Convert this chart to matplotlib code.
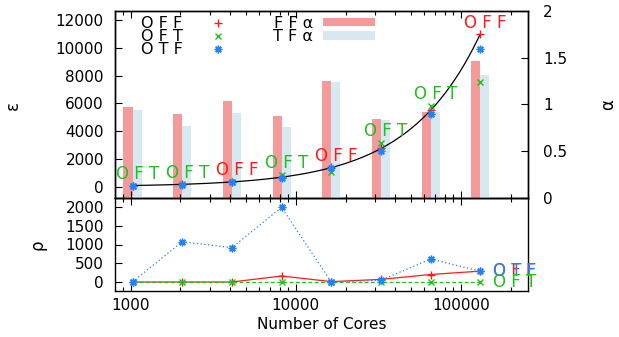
import numpy as np
import matplotlib
matplotlib.use("Agg")
import matplotlib.pyplot as plt
from matplotlib.lines import Line2D
from matplotlib.patches import Patch
from matplotlib.ticker import FixedLocator, LogLocator, NullFormatter, FuncFormatter

plt.rcParams["font.family"] = ["DejaVu Sans"]

# ---- data -------------------------------------------------------------
cores = [1024, 2048, 4096, 8192, 16384, 32768, 65536, 131072]

eps_off = [90, 175, 350, 700, 1400, 2760, 5500, 10990]
eps_oft = [80, 170, 350, 860, 1100, 3180, 5820, 7520]
eps_otf = [90, 165, 340, 620, 1340, 2610, 5240, 9890]
best_labels = ["O F T", "O F T", "O F F", "O F T", "O F F", "O F T", "O F T", "O F F"]

alpha_ff = [0.97, 0.90, 1.04, 0.88, 1.255, 0.85, 0.92, 1.47]
alpha_tf = [0.94, 0.77, 0.91, 0.76, 1.245, 0.83, 0.92, 1.32]

rho_off = [0, 0, 0, 160, 10, 70, 200, 290]
rho_oft = [0, 0, 0, 0, 0, 0, 0, 0]
rho_otf = [0, 1075, 915, 1990, 0, 50, 610, 290]

# linear model eps = slope * cores + intercept
fit_slope = 0.0839
fit_intercept = 5.0

x_ticks = [1000, 10000, 100000]
eps_ticks = [0, 2000, 4000, 6000, 8000, 10000, 12000]
alpha_ticks = [0, 0.5, 1, 1.5, 2]
rho_ticks = [0, 500, 1000, 1500, 2000]

# ---- style ------------------------------------------------------------
RED = "#ff1a1a"
GREEN = "#1ec01e"
BLUE = "#1f82ff"
BAR_RED = "#f59a9a"
BAR_BLUE = "#d6e9f0"
FS = 11
LFS = 12
label_color = {"O F F": RED, "O F T": GREEN, "O T F": BLUE}

W, H = 619, 337
fig = plt.figure(figsize=(W / 100, H / 100), dpi=100)

def fig_rect(left, top, right, bottom):
    return [left / W, 1 - bottom / H, (right - left) / W, (bottom - top) / H]

ax = fig.add_axes(fig_rect(115, 11, 528, 198))
axb = fig.add_axes(fig_rect(115, 198, 528, 291), sharex=ax)
ax2 = ax.twinx()
ax.set_zorder(ax2.get_zorder() + 1)
ax.patch.set_visible(False)

xlim = (802, 255000)
ax.set_xscale("log")
ax.set_xlim(*xlim)

# ---- alpha bars (right axis) ------------------------------------------
bar_dec = 0.0547
factor = 10 ** bar_dec
ax2.bar(cores, alpha_ff, width=[-(c - c / factor) for c in cores],
        align="edge", color=BAR_RED, linewidth=0)
ax2.bar(cores, alpha_tf, width=[c * factor - c for c in cores],
        align="edge", color=BAR_BLUE, linewidth=0)
ax2.set_ylim(0, 2.0)
ax2.yaxis.set_major_locator(FixedLocator(alpha_ticks))
ax2.yaxis.set_major_formatter(FuncFormatter(lambda v, p: f"{v:g}"))

# ---- epsilon (left axis) ----------------------------------------------
xs = np.logspace(np.log10(cores[0]), np.log10(cores[-1]), 300)
ax.plot(xs, fit_slope * xs + fit_intercept, color="black", lw=0.9, zorder=2)

ms = 5.5
asterisk = (8, 2, 0)
ax.plot(cores, eps_off, linestyle="none", marker="+", color=RED, ms=ms, mew=1.0, zorder=3)
ax.plot(cores, eps_oft, linestyle="none", marker="x", color=GREEN, ms=ms - 1, mew=1.0, zorder=3)
ax.plot(cores, eps_otf, linestyle="none", marker=asterisk, color=BLUE, ms=ms, mew=1.0, zorder=3)

for c, lab, a, b, d in zip(cores, best_labels, eps_off, eps_oft, eps_otf):
    top = max(a, b, d)
    ax.annotate(lab, (c, top), xytext=(3.6, 8.3), textcoords="offset points",
                ha="center", va="center", fontsize=LFS,
                color=label_color[lab], zorder=4)

ax.set_ylim(-806, 12650)
ax.yaxis.set_major_locator(FixedLocator(eps_ticks))

handles = [
    Line2D([], [], linestyle="none", marker="+", color=RED, ms=ms, mew=1.0),
    Line2D([], [], linestyle="none", marker="x", color=GREEN, ms=ms - 1, mew=1.0),
    Line2D([], [], linestyle="none", marker=asterisk, color=BLUE, ms=ms, mew=1.0),
    Patch(facecolor=BAR_RED, linewidth=0),
    Patch(facecolor=BAR_BLUE, linewidth=0),
]
labels = ["O F F", "O F T", "O T F", "F F \u03b1", "T F \u03b1"]
ax.legend(handles, labels, ncol=2, markerfirst=False, frameon=False,
          loc="upper left", bbox_to_anchor=(0.035, 1.034), fontsize=11.5,
          handlelength=3.25, handleheight=0.45, handletextpad=0.62,
          columnspacing=1.8, labelspacing=-0.12, borderpad=0.2)

# ---- rho (bottom panel) -----------------------------------------------
axb.plot(cores, rho_off, color=RED, lw=0.9, marker="+", ms=ms, mew=1.0)
axb.plot(cores, rho_oft, color=GREEN, lw=0.9, linestyle=(0, (3, 2)), marker="x", ms=ms - 1, mew=1.0)
axb.plot(cores, rho_otf, color=BLUE, lw=0.9, linestyle=(0, (1, 2)), marker=asterisk, ms=ms, mew=1.0)
for series, lab in ((rho_off, "O F F"), (rho_otf, "O T F"), (rho_oft, "O F T")):
    axb.annotate(lab, (cores[-1], series[-1]), xytext=(9.5, 0), textcoords="offset points",
                 ha="left", va="center", fontsize=LFS, color=label_color[lab],
                 annotation_clip=False)
axb.set_ylim(-240, 2240)
axb.yaxis.set_major_locator(FixedLocator(rho_ticks))
axb.set_xlabel("Number of Cores", fontsize=FS, labelpad=3)

# ---- ticks and frames -------------------------------------------------
for a in (ax, axb):
    a.xaxis.set_major_locator(FixedLocator(x_ticks))
    a.xaxis.set_minor_locator(LogLocator(base=10, subs=np.arange(2, 10)))
    a.xaxis.set_minor_formatter(NullFormatter())
    a.tick_params(axis="x", which="both", direction="in", top=True, bottom=True)
    a.tick_params(axis="x", which="major", length=5, width=0.8)
    a.tick_params(axis="x", which="minor", length=3, width=0.8)
    a.tick_params(axis="y", which="both", direction="in", length=5, width=0.8,
                  labelsize=FS, pad=8)
    for s in a.spines.values():
        s.set_linewidth(1.0)

ax.tick_params(axis="x", which="both", labelbottom=False)
ax.tick_params(axis="y", right=False)
axb.tick_params(axis="y", right=False)
axb.tick_params(axis="x", labelsize=FS, pad=5)
axb.xaxis.set_major_formatter(FuncFormatter(lambda v, p: f"{int(v)}"))
ax2.tick_params(axis="y", direction="in", length=5, width=0.8, labelsize=FS, pad=11)
for s in ax2.spines.values():
    s.set_linewidth(1.0)

fig.text(13 / W, 1 - 105 / H, "\u03b5", rotation=90, ha="center", va="center", fontsize=FS + 1)
fig.text(38 / W, 1 - 245 / H, "\u03c1", rotation=90, ha="center", va="center", fontsize=FS + 1)
fig.text(608 / W, 1 - 105 / H, "\u03b1", rotation=90, ha="center", va="center", fontsize=FS + 1)

fig.savefig("out.png", dpi=100)
